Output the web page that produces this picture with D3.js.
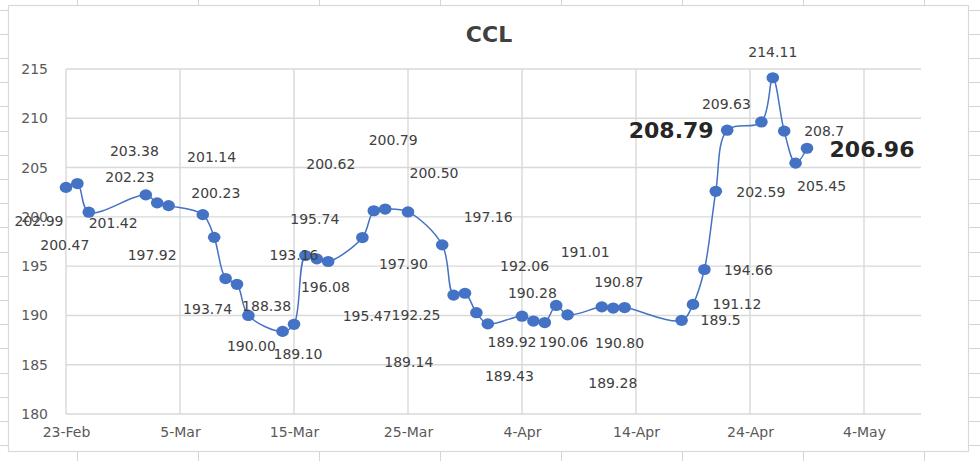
<!DOCTYPE html>
<html>
<head>
<meta charset="utf-8">
<script src="https://cdn.jsdelivr.net/npm/d3@7"></script>
<style>
  html, body { margin: 0; padding: 0; background: #ffffff; }
  svg { display: block; }
</style>
</head>
<body>
<svg id="chart" width="980" height="461"></svg>
<script>
// ---- data ----
const title = "CCL";
const dates = ["2022-02-23","2022-02-24","2022-02-25","2022-03-02","2022-03-03","2022-03-04","2022-03-07","2022-03-08","2022-03-09","2022-03-10","2022-03-11","2022-03-14","2022-03-15","2022-03-16","2022-03-17","2022-03-18","2022-03-21","2022-03-22","2022-03-23","2022-03-25","2022-03-28","2022-03-29","2022-03-30","2022-03-31","2022-04-01","2022-04-04","2022-04-05","2022-04-06","2022-04-07","2022-04-08","2022-04-11","2022-04-12","2022-04-13","2022-04-18","2022-04-19","2022-04-20","2022-04-21","2022-04-22","2022-04-25","2022-04-26","2022-04-27","2022-04-28","2022-04-29"];
const values = [202.99,203.38,200.47,202.23,201.42,201.14,200.23,197.92,193.74,193.16,190.00,188.38,189.10,196.08,195.74,195.47,197.90,200.62,200.79,200.50,197.16,192.06,192.25,190.28,189.14,189.92,189.43,189.28,191.01,190.06,190.87,190.75,190.80,189.5,191.12,194.66,202.59,208.79,209.63,214.11,208.7,205.45,206.96];
const labels = ["202.99","203.38","200.47","202.23","201.42","201.14","200.23","197.92","193.74","193.16","190.00","188.38","189.10","196.08","195.74","195.47","197.90","200.62","200.79","200.50","197.16","192.06","192.25","190.28","189.14","189.92","189.43","189.28","191.01","190.06","190.87",null,"190.80","189.5","191.12","194.66","202.59","208.79","209.63","214.11","208.7","205.45","206.96"];
const yTicks = [180,185,190,195,200,205,210,215];
const xTickDates = ["2022-02-23","2022-03-05","2022-03-15","2022-03-25","2022-04-04","2022-04-14","2022-04-24","2022-05-04"];
const xTickLabels = ["23-Feb","5-Mar","15-Mar","25-Mar","4-Apr","14-Apr","24-Apr","4-May"];

// ---- label placement (pixel offsets from each point; styling, not data) ----
const labelDx = [-27,57,-24,-16,-44,43,13,-62,-18,57,3,-16,4,20,-2,39,41,-43,8,26,46,71,-49,56,-79,-10,-24,68,29,-4,17,0,-5,39,44,44,45,-56,-35,0,40,26,65];
const labelDy = [34,-33,33,-18,20,-49,-22,18,30,-29,31,-25,30,31,-40,54,26,-47,-69,-39,-28,-29,22,-20,38,26,55,60,-54,27,-25,0,35,0,0,0,1,0,-18,-26,0,23,1];
const boldIdx = [37, 42];

// ---- chart ----
const W = 980, H = 461;
const plot = { left: 66, right: 921, top: 69, bottom: 414 };
const parse = d3.timeParse("%Y-%m-%d");
const pts = dates.map((d, i) => ({ date: parse(d), value: values[i], label: labels[i], i }));

const svg = d3.select("#chart");

// spreadsheet background marks outside chart frame
const bg = svg.append("g").attr("stroke", "#d4d4d4").attr("stroke-width", 1);
const rowYs = d3.range(9.5, H, 24.2);
bg.selectAll("line.rl").data(rowYs).join("line")
  .attr("x1", 0).attr("x2", 8).attr("y1", d => Math.round(d) + 0.5).attr("y2", d => Math.round(d) + 0.5);
bg.selectAll("line.rr").data(rowYs).join("line")
  .attr("x1", 969).attr("x2", 980).attr("y1", d => Math.round(d) + 0.5).attr("y2", d => Math.round(d) + 0.5);
const colXs = d3.range(77, W, 121);
bg.selectAll("line.ct").data(colXs).join("line")
  .attr("x1", d => d + 0.5).attr("x2", d => d + 0.5).attr("y1", 0).attr("y2", 5);
bg.selectAll("line.cb").data(colXs).join("line")
  .attr("x1", d => d + 0.5).attr("x2", d => d + 0.5).attr("y1", 452).attr("y2", H);

// chart frame
svg.append("rect")
  .attr("x", 8.5).attr("y", 5.5).attr("width", 960).attr("height", 446)
  .attr("fill", "#ffffff").attr("stroke", "#d9d9d9").attr("stroke-width", 1.2);

const x = d3.scaleTime()
  .domain([parse("2022-02-23"), parse("2022-05-09")])
  .range([plot.left, plot.right]);
const y = d3.scaleLinear().domain([180, 215]).range([plot.bottom, plot.top]);

// gridlines
const grid = svg.append("g").attr("stroke", "#d9d9d9").attr("stroke-width", 1.4);
grid.selectAll("line.h").data(yTicks).join("line")
  .attr("x1", plot.left).attr("x2", plot.right)
  .attr("y1", d => y(d)).attr("y2", d => y(d));
grid.selectAll("line.v").data(xTickDates).join("line")
  .attr("x1", d => x(parse(d))).attr("x2", d => x(parse(d)))
  .attr("y1", plot.top).attr("y2", plot.bottom);

// axes (text only, via d3 axis generators)
const yAxis = d3.axisLeft(y).tickValues(yTicks).tickSize(0).tickPadding(0).tickFormat(d3.format("d"));
svg.append("g").attr("transform", `translate(${plot.left - 18},0)`).call(yAxis)
  .call(g => g.select(".domain").remove())
  .call(g => g.selectAll("text").attr("fill", "#595959")
    .style("font-family", "DejaVu Sans").style("font-size", "14px"));

const xAxis = d3.axisBottom(x).tickValues(xTickDates.map(parse)).tickSize(0).tickPadding(0)
  .tickFormat((d, i) => xTickLabels[i]);
svg.append("g").attr("transform", `translate(0,${plot.bottom + 13})`).call(xAxis)
  .call(g => g.select(".domain").remove())
  .call(g => g.selectAll("text").attr("fill", "#595959")
    .style("font-family", "DejaVu Sans").style("font-size", "14px"));

// line
const line = d3.line()
  .x(d => x(d.date)).y(d => y(d.value))
  .curve(d3.curveCatmullRom.alpha(0.5));
svg.append("path").datum(pts)
  .attr("d", line).attr("fill", "none")
  .attr("stroke", "#4472C4").attr("stroke-width", 1.5);

// markers
svg.append("g").selectAll("ellipse").data(pts).join("ellipse")
  .attr("cx", d => x(d.date)).attr("cy", d => y(d.value))
  .attr("rx", 6.3).attr("ry", 5.6)
  .attr("fill", "#4472C4");

// data labels
svg.append("g").selectAll("text").data(pts.filter(d => d.label)).join("text")
  .attr("x", d => x(d.date) + labelDx[d.i])
  .attr("y", d => y(d.value) + labelDy[d.i])
  .attr("dy", "0.36em")
  .attr("text-anchor", "middle")
  .attr("fill", d => boldIdx.includes(d.i) ? "#262626" : "#404040")
  .style("font-family", "DejaVu Sans")
  .style("font-size", d => boldIdx.includes(d.i) ? "22px" : "14px")
  .style("font-weight", d => boldIdx.includes(d.i) ? "bold" : "normal")
  .text(d => d.label);

// title
svg.append("text")
  .attr("x", 489).attr("y", 34).attr("dy", "0.36em")
  .attr("text-anchor", "middle")
  .attr("fill", "#404040")
  .style("font-family", "DejaVu Sans").style("font-size", "22px").style("font-weight", "bold")
  .text(title);
</script>
</body>
</html>
